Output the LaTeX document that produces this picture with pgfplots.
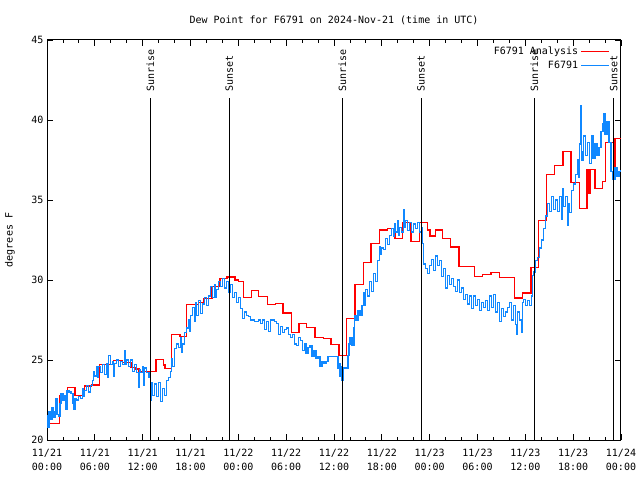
\documentclass[border=0pt]{standalone}
\usepackage{pgfplots}
\pgfplotsset{compat=1.18}
\usepackage{fontspec}
\setmainfont{DejaVu Sans Mono}
\definecolor{anared}{RGB}{255,0,0}
\definecolor{obsblue}{RGB}{16,136,255}
\begin{document}
\begin{tikzpicture}[font=\fontsize{10}{14}\selectfont]
\path[use as bounding box] (0,0) rectangle (640pt,480pt);
\begin{axis}[
  at={(47pt,40pt)}, anchor=south west, scale only axis,
  width=574pt, height=400pt,
  xmin=0, xmax=72, ymin=20, ymax=45,
  xtick={0,6,...,72},
  xticklabels={{11/21\\00:00},{11/21\\06:00},{11/21\\12:00},{11/21\\18:00},{11/22\\00:00},{11/22\\06:00},{11/22\\12:00},{11/22\\18:00},{11/23\\00:00},{11/23\\06:00},{11/23\\12:00},{11/23\\18:00},{11/24\\00:00}},
  minor x tick num=2,
  ytick={20,25,...,45},
  /pgf/number format/assume math mode=true,
  xticklabel style={align=center, font=\fontsize{10}{14}\selectfont, yshift=-6pt},
  yticklabel style={font=\fontsize{10}{14}\selectfont},
  tick align=inside,
  major tick length=6pt, minor tick length=3pt,
  every tick/.style={black, line width=0.8pt},
  axis line style={line width=1pt},
  title={Dew Point for F6791 on 2024-Nov-21 (time in UTC)},
  title style={at={(0.5,1)}, anchor=center, yshift=14pt},
  ylabel={degrees F},
  ylabel style={at={(axis description cs:-0.0645,0.5)}, anchor=center},
  legend plot pos=right,
  legend cell align=right,
  legend style={draw=none, fill=none, at={(rel axis cs:1,1)}, anchor=north east,
    xshift=-11pt, yshift=-4pt, inner sep=0pt, row sep=0pt,
    nodes={inner sep=2.5pt}},
  legend image code/.code={\draw[#1] (0pt,0pt) -- (28pt,0pt);},
]
\addplot[const plot, anared, line width=1.2pt] coordinates {
(0,21.02) (1.54,22.8) (2.55,23.27) (3.51,22.79) (4.68,23.38) (5.6,23.44)
(6.56,24.73) (8.3,24.96) (9.5,24.85) (10.54,24.52) (11.04,24.44) (11.54,24.29)
(13.67,25.04) (14.59,24.69) (14.8,24.48) (15.64,26.61) (16.68,26.46) (17.52,28.48)
(19.0,28.6) (19.6,28.85) (20.7,29.6) (21.7,30.11) (22.58,30.19) (23.58,30.0) (24.0,29.89)
(24.62,28.92) (25.68,29.36) (26.5,28.98) (27.68,28.49) (28.69,28.54) (29.6,27.94)
(30.69,26.74) (31.61,27.29) (32.58,27.04) (33.62,26.41) (34.66,26.36) (35.62,25.96)
(36.63,25.3) (37.59,27.61) (38.64,29.72) (39.68,31.11) (40.64,32.29) (41.68,33.13)
(42.69,33.23) (43.65,32.61) (44.62,33.59) (45.66,32.39) (46.7,33.59) (47.75,33.13)
(48.04,32.75) (48.76,33.13) (49.64,32.61) (50.64,32.06) (51.68,30.84) (53.6,30.21)
(54.63,30.36) (55.7,30.48) (56.72,30.16) (58.67,28.88) (59.65,29.19) (60.71,30.78)
(61.63,33.72) (62.63,36.61) (63.68,37.17) (64.73,38.03) (65.73,36.1) (66.77,34.48)
(67.73,36.92) (67.95,35.4) (68.1,36.92) (68.74,35.73) (69.71,36.14) (70.08,38.6)
(71.03,36.3) (71.25,38.85) (72,38.85)
};
\addlegendentry{F6791 Analysis}
\addplot[const plot, obsblue, line width=1.2pt] coordinates {
(0,21.5) (0.12,20.8) (0.25,21.8) (0.5,21.3) (0.62,22.0) (0.75,21.4) (1.0,21.8) (1.12,22.6)
(1.25,21.6) (1.5,21.5) (1.62,22.3) (1.75,22.9) (2.0,22.5) (2.12,22.8) (2.3,21.9) (2.5,23.1)
(2.75,23.0) (3.0,22.9) (3.25,22.3) (3.37,21.9) (3.5,22.6) (3.75,22.5) (4.0,22.7) (4.25,22.6)
(4.5,23.2) (4.62,22.7) (4.75,23.1) (5.0,23.4) (5.25,23.0) (5.5,23.4) (5.75,23.7) (5.87,24.3)
(6.0,24.0) (6.25,24.6) (6.37,23.9) (6.5,24.6) (6.75,24.2) (7.0,24.7) (7.25,24.1) (7.5,24.8)
(7.62,23.9) (7.75,25.3) (8.0,24.7) (8.25,24.9) (8.37,24.0) (8.5,24.8) (8.75,25.0) (9.0,24.6)
(9.25,24.9) (9.5,24.7) (9.75,25.6) (9.87,24.7) (10.0,25.0) (10.25,24.6) (10.5,25.0) (10.75,24.3)
(11.0,24.7) (11.25,24.2) (11.5,23.3) (11.62,24.4) (11.75,24.2) (12.0,24.6) (12.1,23.4) (12.25,24.5)
(12.5,24.2) (12.75,23.9) (12.87,24.2) (13.0,22.5) (13.12,23.6) (13.25,22.8) (13.5,23.5) (13.75,22.7)
(14.0,23.6) (14.25,22.4) (14.5,23.2) (14.75,22.8) (15.0,23.7) (15.25,23.9) (15.5,24.3) (15.62,25.1)
(15.75,24.6) (16.0,25.7) (16.25,26.0) (16.5,25.8) (16.75,26.4) (16.87,25.5) (17.0,26.0) (17.25,26.7)
(17.5,27.0) (17.75,27.5) (17.87,26.8) (18.0,27.8) (18.25,28.3) (18.5,27.4) (18.62,28.6) (18.75,27.8)
(19.0,28.7) (19.25,27.9) (19.5,28.5) (19.75,28.9) (20.0,28.4) (20.25,29.0) (20.5,29.6) (20.75,28.9)
(21.0,29.7) (21.12,28.9) (21.25,29.4) (21.5,29.9) (21.75,29.6) (22.0,30.1) (22.25,29.5) (22.5,29.9)
(22.75,29.2) (23.0,29.7) (23.25,28.9) (23.5,29.2) (23.75,28.6) (24.0,28.9) (24.25,28.2) (24.5,27.6)
(24.75,28.0) (25.0,27.8) (25.25,27.7) (25.5,27.5) (26.0,27.4) (26.5,27.5) (26.75,27.3) (27.0,27.5)
(27.25,26.9) (27.5,27.4) (27.75,26.8) (28.0,27.5) (28.5,27.4) (28.75,27.3) (29.0,26.6) (29.25,27.1)
(29.5,26.7) (29.75,26.9) (30.0,27.0) (30.25,26.6) (30.5,26.4) (30.75,26.6) (31.0,26.0) (31.25,25.9)
(31.5,26.4) (31.75,26.2) (32.0,25.6) (32.25,26.0) (32.5,25.4) (32.75,25.8) (33.0,25.9) (33.25,25.2)
(33.5,25.6) (33.75,25.1) (34.0,25.2) (34.25,24.6) (34.5,24.9) (34.75,24.8) (35.0,24.9) (35.25,25.2)
(36.5,24.5) (36.62,24.8) (36.75,24.0) (36.87,24.6) (37.0,23.7) (37.12,24.5) (37.5,24.5) (37.75,25.3)
(37.87,26.0) (38.0,26.4) (38.25,25.9) (38.5,27.0) (38.62,27.8) (38.75,27.5) (39.0,28.1) (39.25,27.8)
(39.5,28.4) (39.75,29.2) (39.87,28.4) (40.0,29.4) (40.25,29.0) (40.5,29.9) (40.75,29.3) (41.0,30.4)
(41.25,29.9) (41.5,31.2) (41.75,32.1) (41.87,31.6) (42.0,32.0) (42.25,31.9) (42.5,32.6) (42.75,32.2)
(43.0,32.8) (43.25,33.2) (43.5,32.7) (43.62,33.5) (43.75,33.0) (44.0,33.7) (44.12,32.8) (44.25,33.3)
(44.5,33.0) (44.75,34.4) (44.87,33.3) (45.0,33.7) (45.25,33.1) (45.5,33.6) (45.75,33.0) (46.0,33.5)
(46.25,33.2) (46.5,33.6) (46.75,33.0) (47.0,33.3) (47.1,32.3) (47.25,31.0) (47.5,30.7) (47.75,30.4)
(48.0,30.9) (48.25,31.3) (48.5,30.6) (48.75,31.5) (49.0,30.9) (49.25,31.2) (49.5,30.2) (49.75,30.7)
(50.0,29.5) (50.25,30.3) (50.5,29.7) (50.75,30.1) (51.0,29.6) (51.25,29.3) (51.5,30.0) (51.75,29.2)
(52.0,29.5) (52.25,28.8) (52.5,29.1) (52.75,28.5) (53.0,29.0) (53.25,28.2) (53.5,29.0) (53.75,28.4)
(54.0,28.8) (54.25,28.1) (54.5,28.6) (54.75,28.3) (55.0,28.7) (55.25,28.1) (55.5,29.0) (55.75,28.3)
(56.0,29.1) (56.25,28.0) (56.5,28.6) (56.75,27.4) (57.0,28.2) (57.25,27.7) (57.5,28.0) (57.75,28.3)
(58.0,28.6) (58.25,27.5) (58.5,28.4) (58.75,27.2) (58.87,26.6) (59.0,28.0) (59.25,27.5) (59.5,26.7)
(59.62,28.6) (59.75,28.8) (60.0,28.4) (60.25,28.7) (60.5,28.4) (60.75,29.0) (60.87,30.3) (61.0,30.5)
(61.25,31.2) (61.5,31.4) (61.75,32.0) (62.0,32.5) (62.25,33.2) (62.5,34.0) (62.75,34.8) (63.0,34.3)
(63.25,35.2) (63.5,34.4) (63.75,35.0) (64.0,34.3) (64.25,35.2) (64.5,33.8) (64.62,35.7) (64.75,34.6)
(65.0,35.2) (65.25,33.4) (65.37,34.8) (65.5,34.2) (65.75,35.6) (66.0,36.0) (66.25,36.6) (66.5,37.5)
(66.62,36.4) (66.75,38.5) (66.87,40.9) (67.0,38.0) (67.12,37.5) (67.25,39.0) (67.5,37.8) (67.75,38.6)
(68.0,37.3) (68.25,39.0) (68.5,37.6) (68.75,38.5) (69.0,37.8) (69.25,38.3) (69.5,39.3) (69.75,39.8)
(69.87,40.4) (70.0,39.1) (70.25,39.9) (70.5,38.6) (70.75,36.8) (71.0,36.3) (71.25,37.0) (71.5,36.5)
(71.75,36.8) (72.0,36.9)
};
\addlegendentry{F6791}
% sunrise / sunset markers
\addplot[black, line width=1pt, forget plot] coordinates {(12.96,20) (12.96,41.4)};
\addplot[black, line width=1pt, forget plot] coordinates {(22.87,20) (22.87,41.4)};
\addplot[black, line width=1pt, forget plot] coordinates {(37.04,20) (37.04,41.4)};
\addplot[black, line width=1pt, forget plot] coordinates {(46.92,20) (46.92,41.4)};
\addplot[black, line width=1pt, forget plot] coordinates {(61.13,20) (61.13,41.4)};
\addplot[black, line width=1pt, forget plot] coordinates {(71.09,20) (71.09,41.4)};
\node[rotate=90, anchor=west, inner sep=0pt] at (axis cs:12.96,41.75) {Sunrise};
\node[rotate=90, anchor=west, inner sep=0pt] at (axis cs:22.87,41.75) {Sunset};
\node[rotate=90, anchor=west, inner sep=0pt] at (axis cs:37.04,41.75) {Sunrise};
\node[rotate=90, anchor=west, inner sep=0pt] at (axis cs:46.92,41.75) {Sunset};
\node[rotate=90, anchor=west, inner sep=0pt] at (axis cs:61.13,41.75) {Sunrise};
\node[rotate=90, anchor=west, inner sep=0pt] at (axis cs:71.09,41.75) {Sunset};
\end{axis}
\end{tikzpicture}
\end{document}
